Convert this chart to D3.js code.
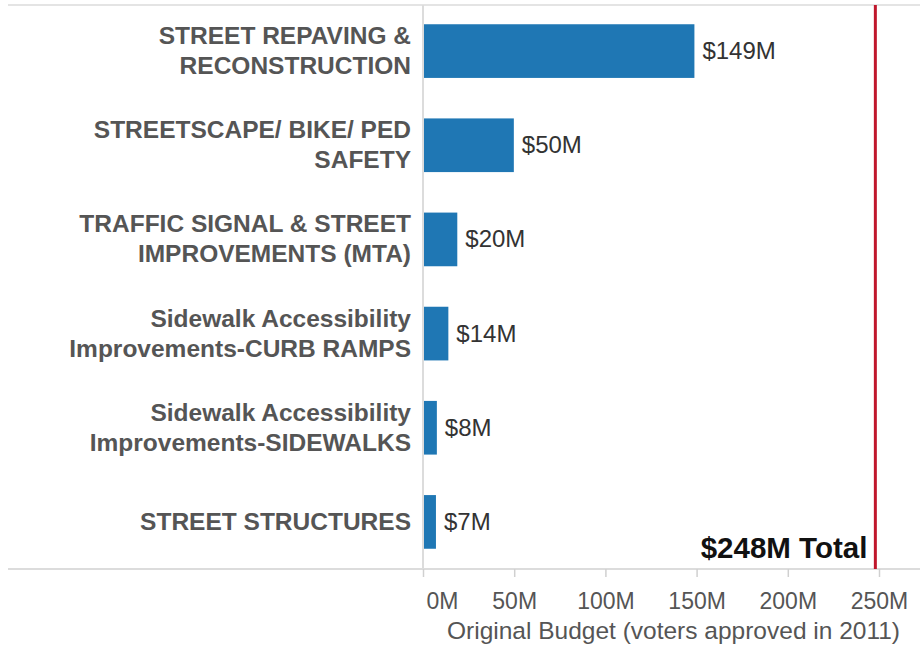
<!DOCTYPE html>
<html>
<head>
<meta charset="utf-8">
<script src="https://cdn.jsdelivr.net/npm/d3@7"></script>
<style>
  html, body { margin: 0; padding: 0; background: #fff; }
  svg { display: block; font-family: "Liberation Sans", Arial, sans-serif; }
</style>
</head>
<body>
<svg id="chart"></svg>
<script>
// categories, two lines each as shown on the axis
const categories = [
  ['STREET REPAVING &', 'RECONSTRUCTION'],
  ['STREETSCAPE/ BIKE/ PED', 'SAFETY'],
  ['TRAFFIC SIGNAL & STREET', 'IMPROVEMENTS (MTA)'],
  ['Sidewalk Accessibility', 'Improvements-CURB RAMPS'],
  ['Sidewalk Accessibility', 'Improvements-SIDEWALKS'],
  ['STREET STRUCTURES']
];
// budget in millions
const budget = [148.8, 49.8, 18.8, 13.9, 7.6, 7.1];
const budgetLabels = ['$149M', '$50M', '$20M', '$14M', '$8M', '$7M'];
const total = 248;
const totalLabel = '$248M Total';
const xTicks = [0, 50, 100, 150, 200, 250];
const xTitle = 'Original Budget (voters approved in 2011)';

const width = 920, height = 646;
const svg = d3.select('#chart').attr('width', width).attr('height', height);

const keys = categories.map(d => d.join(' '));

const x = d3.scaleLinear().domain([0, 250]).range([423, 879]);
const y = d3.scaleBand().domain(keys).range([4, 569])
  .paddingInner(0.43).paddingOuter(0.215);

// frame lines
svg.append('line')
  .attr('x1', 8).attr('x2', width).attr('y1', 5).attr('y2', 5)
  .attr('stroke', '#e4e4e4').attr('stroke-width', 2);
svg.append('line')
  .attr('x1', 8).attr('x2', width).attr('y1', 569).attr('y2', 569)
  .attr('stroke', '#dcdcdc').attr('stroke-width', 2);
svg.append('line')
  .attr('x1', x(0)).attr('x2', x(0)).attr('y1', 5).attr('y2', 569)
  .attr('stroke', '#dcdcdc').attr('stroke-width', 2);

// x axis
const xAxis = svg.append('g')
  .attr('transform', 'translate(0,569)')
  .call(d3.axisBottom(x).tickValues(xTicks).tickFormat(d => d + 'M').tickSize(8).tickPadding(10));
xAxis.select('.domain').remove();
xAxis.selectAll('.tick line').attr('stroke', '#d0d0d0').attr('stroke-width', 1.5);
xAxis.selectAll('.tick text')
  .attr('fill', '#555')
  .style('font-size', '23px')
  .attr('dy', '0.95em');
xAxis.selectAll('.tick text').filter(d => d === 0)
  .attr('text-anchor', 'start').attr('x', 3);

svg.append('text')
  .attr('x', (x(0) + width) / 2 + 2)
  .attr('y', 639)
  .attr('text-anchor', 'middle')
  .attr('fill', '#555')
  .style('font-size', '24.5px')
  .text(xTitle);

// bars
svg.selectAll('rect.bar')
  .data(budget)
  .join('rect')
  .attr('class', 'bar')
  .attr('x', x(0) + 1)
  .attr('y', (d, i) => y(keys[i]))
  .attr('width', d => x(d) - x(0) - 1)
  .attr('height', y.bandwidth())
  .attr('fill', '#1f77b4');

// value labels
svg.selectAll('text.val')
  .data(budget)
  .join('text')
  .attr('class', 'val')
  .attr('x', d => x(d) + 8)
  .attr('y', (d, i) => y(keys[i]) + y.bandwidth() / 2 + 8)
  .attr('fill', '#333')
  .style('font-size', '24px')
  .text((d, i) => budgetLabels[i]);

// category labels
const cat = svg.selectAll('text.cat')
  .data(categories)
  .join('text')
  .attr('class', 'cat')
  .attr('text-anchor', 'end')
  .attr('fill', '#555')
  .style('font-size', '24.5px')
  .style('font-weight', 'bold')
  .attr('y', (d, i) => y(keys[i]) + y.bandwidth() / 2 + 8 - (d.length - 1) * 15);
cat.selectAll('tspan')
  .data(d => d)
  .join('tspan')
  .attr('x', 411)
  .attr('dy', (d, i) => i === 0 ? 0 : 30)
  .text(d => d);

// total reference line
svg.append('line')
  .attr('x1', x(total)).attr('x2', x(total))
  .attr('y1', 5).attr('y2', 569)
  .attr('stroke', '#c0172c').attr('stroke-width', 3);
svg.append('text')
  .attr('x', x(total) - 8)
  .attr('y', 558)
  .attr('text-anchor', 'end')
  .attr('fill', '#111')
  .style('font-size', '29.5px')
  .style('font-weight', 'bold')
  .text(totalLabel);
</script>
</body>
</html>
